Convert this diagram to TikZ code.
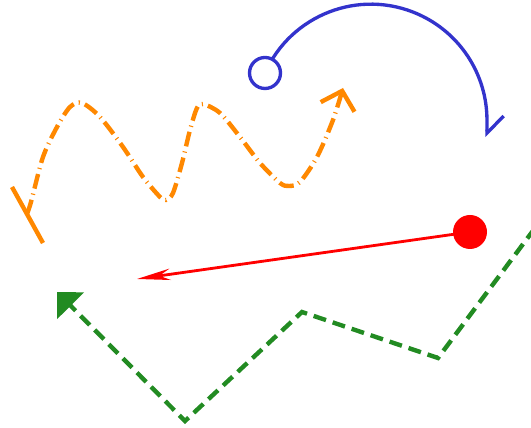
\documentclass[tikz,border=0pt]{standalone}
\usepackage{tikz}
\usetikzlibrary{arrows.meta}
\definecolor{arcblue}{RGB}{51,51,204}
\definecolor{waveorange}{RGB}{255,136,0}
\definecolor{pathgreen}{RGB}{34,139,34}

\begin{document}
\begin{tikzpicture}[x=0.02cm, y=0.02cm,
  bluearc/.style={draw=arcblue, line width=1.9pt},
  orangewave/.style={draw=waveorange, line width=2.5pt, dash pattern=on 8.5pt off 3pt on 0.6pt off 3pt},
  greenpath/.style={draw=pathgreen, line width=2.5pt, dash pattern=on 7.4pt off 4pt},
  redray/.style={draw=red, line width=1.6pt}]
  \useasboundingbox (0,0) rectangle (531,428);
  \clip (0,0) rectangle (531,428);

  % blue arc with ring
  \coordinate (ringc) at (265,355);
  \draw[bluearc, -{Straight Barb[harpoon, length=9.7pt, width=19pt]}]
    (ringc) arc[start angle=156, end angle=0, radius=116] -- ++(0,-17);
  \node[circle, draw=arcblue, line width=1.9pt, fill=white, minimum size=0.62cm, inner sep=0pt] (ring) at (ringc) {};

  % orange wave
  \coordinate (barA) at (12,241);
  \coordinate (barB) at (43,185);
  \draw[orangewave, -{Straight Barb[length=9.5pt, width=20pt]}]
    plot[smooth, tension=0.5] coordinates {(27,214) (31,226) (43,271) (57,301) (70,321) (82,325)
      (100,311) (123,281) (143,251) (160,231) (166,228) (173,235) (182,265) (190,298)
      (197,320) (203,324) (220,315) (240,291) (260,265) (280,245) (289,242) (300,246)
      (317,271) (333,308) (343,340)};
  \draw[waveorange, line width=2.5pt] (barA) -- (barB);

  % red ray
  \node[circle, fill=red, minimum size=0.68cm, inner sep=0pt] (dot) at (470,196) {};
  \coordinate (raytip) at (137,149);
  \draw[redray, -{Stealth[length=19pt, width=6.5pt]}] (dot.center) -- (raytip);

  % green dashed path
  \coordinate (g0) at (547,216);
  \coordinate (g1) at (438,70);
  \coordinate (g2) at (302,116);
  \coordinate (g3) at (185,7);
  \coordinate (gtip) at (57,136);
  \draw[greenpath, -{Triangle[length=11pt, width=21pt]}] (g0) -- (g1) -- (g2) -- (g3) -- (gtip);
\end{tikzpicture}
\end{document}
